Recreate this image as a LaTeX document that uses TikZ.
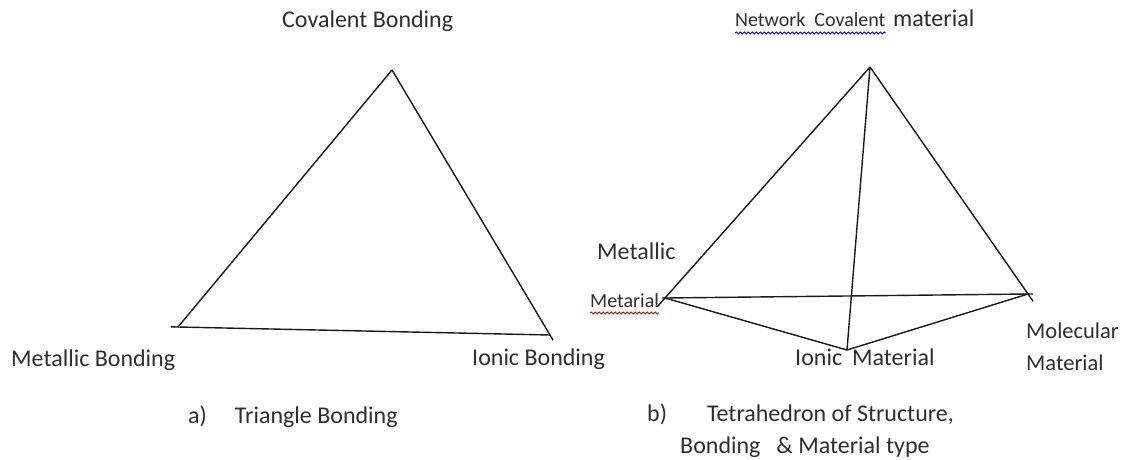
\documentclass[tikz,border=0pt]{standalone}
\usepackage{fontspec}
\setmainfont{Carlito}
\usetikzlibrary{decorations.pathmorphing}
\definecolor{txt}{HTML}{2E2E2E}
\tikzset{
  lbl/.style={anchor=base west, inner sep=0pt, text=txt, font=\fontsize{24}{29}\selectfont},
  slbl/.style={anchor=base west, inner sep=0pt, text=txt, font=\fontsize{20}{24}\selectfont},
  edge/.style={draw=black!90, line width=1.4pt},
  squig/.style={decorate, decoration={snake, amplitude=1pt, segment length=4pt}, line width=0.8pt}
}
\begin{document}
\begin{tikzpicture}[x=1pt,y=-1pt]
\useasboundingbox[fill=white] (0,0) rectangle (1122,460);
% ---- triangle
\coordinate (cb) at (392,70);
\coordinate (mb) at (178,327);
\coordinate (ib) at (550,335);
\draw[edge] (cb) -- (mb);
\draw[edge, shorten <=-7pt] (mb) -- (ib);
\draw[edge, shorten >=-6pt] (cb) -- (ib);
\node[lbl] (tcb) at (282,28) {Covalent Bonding};
\node[lbl] (tmb) at (11,366) {Metallic Bonding};
\node[lbl] (tib) at (472,365) {Ionic Bonding};
\node[lbl] (capa) at (188,423) {a)\hspace{28pt}Triangle Bonding};
% ---- tetrahedron
\coordinate (ta) at (870,67);
\coordinate (tl) at (665,298);
\coordinate (tr) at (1028,294);
\coordinate (tb) at (847,350);
\draw[edge, shorten >=-12pt] (ta) -- (tl);
\draw[edge, shorten >=-9pt] (ta) -- (tr);
\draw[edge] (ta) -- (tb);
\draw[edge, shorten <=-3pt, shorten >=-5pt] (tl) -- (tr);
\draw[edge] (tl) -- (tb);
\draw[edge] (tb) -- (tr);
\node[slbl] (tnc) at (735,27) {Network\hspace{9pt}Covalent};
\node[lbl] (tnm) at (893,27) {material};
\draw[squig, blue!70!black] ([yshift=-6pt]tnc.base west) -- ([yshift=-6pt]tnc.base east);
\node[lbl] (tmet) at (597,259) {Metallic};
\node[slbl] (tmat) at (590,307) {Metarial};
\draw[squig, red!80!black] ([yshift=-6pt]tmat.base west) -- ([yshift=-6pt]tmat.base east);
\node[lbl] (tion) at (795,365) {Ionic\hspace{10pt}Material};
\node[lbl, font=\fontsize{22.5}{27}\selectfont] (tmol) at (1026,338) {Molecular};
\node[lbl, font=\fontsize{22.5}{27}\selectfont] (tmol2) at (1026,370) {Material};
\node[lbl] (capb) at (647,421) {b)\hspace{40pt}Tetrahedron of Structure,};
\node[lbl] (capb2) at (680,453) {Bonding\hspace{16pt}\& Material type};
\end{tikzpicture}
\end{document}
